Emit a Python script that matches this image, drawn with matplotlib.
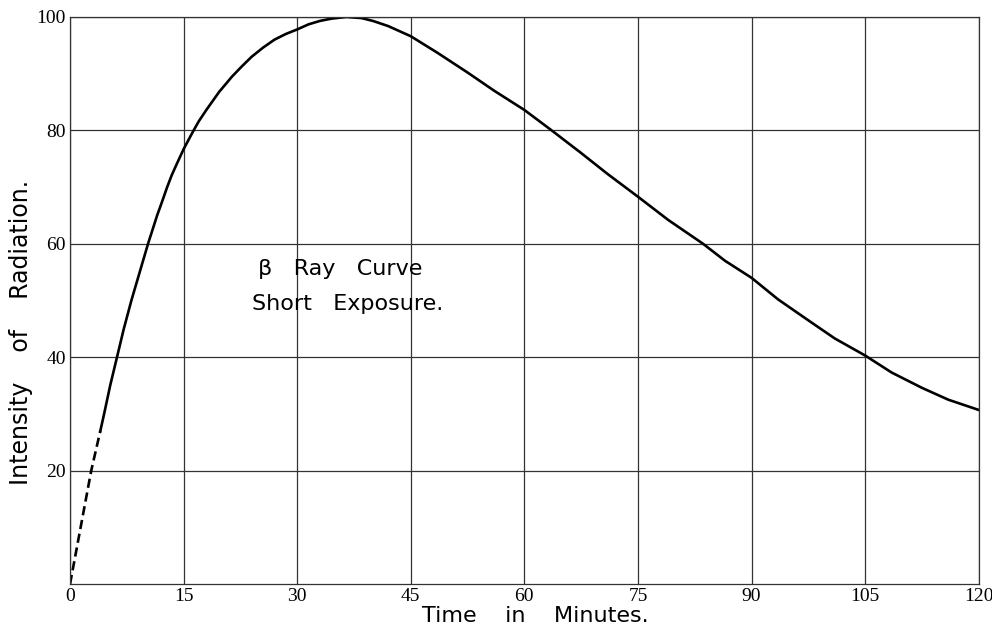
import numpy as np
import matplotlib
matplotlib.use("Agg")
import matplotlib.pyplot as plt

# readings off the original plate (minutes, intensity)
dash_t = [0, 1.4, 2.8, 4.0]
dash_i = [0, 10, 20, 27]

curve_t = [4.0, 4.5, 5.3, 6.2, 7.1, 8.1, 9.2, 10.3, 11.5, 12.2, 12.8, 13.4, 14.0, 15.0,
           16.2, 17.0, 18.0, 19.7, 21.4, 22.7, 24.0, 25.5, 27.0, 28.5, 30.0, 31.5,
           33.0, 34.5, 36.5, 38.5, 40.0, 42.0, 45.0, 48.5, 52.5, 56.0, 60.0, 63.6,
           67.5, 71.0, 75.0, 79.0, 83.6, 86.5, 90.0, 93.5, 97.5, 101.0, 105.0,
           108.5, 112.5, 116.0, 120.0]
curve_i = [27.0, 30.0, 35.0, 40.0, 45.0, 50.0, 55.0, 60.0, 65.0, 67.6, 69.9, 72.0, 73.8, 76.7,
           79.7, 81.6, 83.6, 86.8, 89.5, 91.3, 93.0, 94.6, 96.0, 97.0, 97.8, 98.7,
           99.3, 99.7, 100.0, 99.8, 99.3, 98.4, 96.6, 93.7, 90.2, 87.0, 83.6, 80.0,
           76.0, 72.3, 68.3, 64.2, 60.0, 57.0, 54.0, 50.2, 46.5, 43.3, 40.3,
           37.3, 34.6, 32.5, 30.7]

x_ticks = [0, 15, 30, 45, 60, 75, 90, 105, 120]
y_ticks = [20, 40, 60, 80, 100]

fig = plt.figure(figsize=(9.92, 6.28), dpi=100)
ax = fig.add_axes([0.0706, 0.070, 0.916, 0.903])

ax.plot(dash_t, dash_i, color="black", lw=1.9, ls=(0, (3.5, 1.8)))
ax.plot(curve_t, curve_i, color="black", lw=1.9, solid_joinstyle="round")

ax.set_xlim(0, 120)
ax.set_ylim(0, 100)
ax.set_xticks(x_ticks)
ax.set_yticks(y_ticks)
ax.grid(True, color="#333333", lw=0.9)
ax.set_axisbelow(True)
for s in ax.spines.values():
    s.set_color("#333333")
    s.set_linewidth(0.9)

ax.tick_params(length=0, labelsize=14)
ax.tick_params(axis="x", pad=3)
ax.tick_params(axis="y", pad=3)
for lab in ax.get_xticklabels() + ax.get_yticklabels():
    lab.set_family("Liberation Serif")

ax.set_xlabel("Time    in    Minutes.", fontsize=16)
ax.xaxis.set_label_coords(0.512, -0.039)
ax.set_ylabel("Intensity    of    Radiation.", fontsize=17)
ax.yaxis.set_label_coords(-0.041, 0.444)

ax.text(24.8, 55.5, "\u03b2   Ray   Curve", fontsize=16, va="center")
ax.text(24.0, 49.3, "Short   Exposure.", fontsize=16, va="center")

fig.savefig("out.png", dpi=100)
